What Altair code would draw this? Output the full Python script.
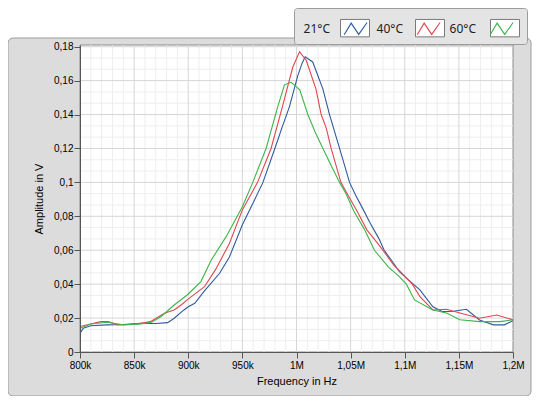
import altair as alt
import pandas as pd
import numpy as np

# ---- data (frequency in kHz, amplitude in V) ----
f21 = [800, 803, 810, 825, 840, 856, 870, 881, 887, 896, 900, 906, 915, 929, 938, 950, 960, 969,
       980, 987, 993.5, 1001, 1005, 1008, 1015, 1024.4, 1030.5, 1039.8, 1049, 1055, 1060, 1068,
       1076, 1081, 1090, 1095, 1106, 1114, 1126, 1135, 1145, 1157, 1169, 1182, 1192, 1200]
a21 = [0.011, 0.014, 0.0155, 0.016, 0.0162, 0.0169, 0.0168, 0.0173, 0.0199, 0.0248, 0.0267, 0.0287,
       0.036, 0.0464, 0.056, 0.075, 0.088, 0.100, 0.120, 0.133, 0.1447, 0.1625, 0.170, 0.174, 0.171,
       0.155, 0.140, 0.120, 0.100, 0.092, 0.086, 0.076, 0.067, 0.060, 0.052, 0.0474, 0.041, 0.0366,
       0.0267, 0.0238, 0.024, 0.0252, 0.0189, 0.016, 0.016, 0.0185]

f40 = [800, 810, 819, 826, 834.6, 845, 856, 865, 878, 887, 894, 899, 915, 925.6, 938, 950, 964,
       976.5, 987, 996.6, 1002.8, 1009, 1018, 1022.8, 1027.5, 1032, 1041, 1048, 1056, 1065, 1075,
       1081, 1090, 1095, 1107, 1114, 1126, 1138.6, 1151, 1169, 1185, 1200]
a40 = [0.015, 0.0165, 0.0179, 0.018, 0.016, 0.0162, 0.0169, 0.0179, 0.0228, 0.0248, 0.028, 0.0307,
       0.0385, 0.049, 0.064, 0.0838, 0.100, 0.120, 0.1447, 0.168, 0.177, 0.172, 0.155, 0.140, 0.132,
       0.120, 0.100, 0.092, 0.083, 0.072, 0.064, 0.059, 0.051, 0.048, 0.040, 0.0327, 0.0248, 0.0252,
       0.023, 0.0199, 0.0218, 0.0189]

f60 = [800, 810, 825, 840, 856, 866, 874.7, 887, 899, 911.7, 921, 935, 950, 959.6, 971.9, 982.7,
       988.9, 995, 999.7, 1003, 1010.5, 1017, 1024.4, 1032, 1039.8, 1046, 1053, 1063, 1072, 1085,
       1095, 1101.5, 1109, 1126, 1138.6, 1151, 1169, 1188, 1200]
a60 = [0.014, 0.0165, 0.0175, 0.016, 0.0165, 0.0175, 0.0208, 0.0277, 0.0336, 0.0415, 0.054, 0.068,
       0.0857, 0.100, 0.120, 0.1447, 0.1575, 0.159, 0.1565, 0.1546, 0.140, 0.130, 0.120, 0.110, 0.100,
       0.093, 0.083, 0.072, 0.060, 0.050, 0.0444, 0.040, 0.0307, 0.0248, 0.023, 0.019, 0.0179,
       0.0179, 0.019]

series_names = ["21°C", "40°C", "60°C"]
series_colors = ["#2f5b9c", "#e0474f", "#3cb54a"]

x_ticks = [800, 850, 900, 950, 1000, 1050, 1100, 1150, 1200]
x_tick_labels = ["800k", "850k", "900k", "950k", "1M", "1,05M", "1,1M", "1,15M", "1,2M"]
y_ticks = [0, 0.02, 0.04, 0.06, 0.08, 0.1, 0.12, 0.14, 0.16, 0.18]
y_tick_labels = ["0", "0,02", "0,04", "0,06", "0,08", "0,1", "0,12", "0,14", "0,16", "0,18"]

x_minor = [v for v in range(810, 1200, 10) if v % 50 != 0]
y_minor = [round(m * 0.02 + k * 0.02 / 3, 5) for m in range(9) for k in (1, 2)]

rows = []
for name, fs, As in zip(series_names, [f21, f40, f60], [a21, a40, a60]):
    for f, a in zip(fs, As):
        rows.append({"series": name, "freq": f, "amp": a})
df = pd.DataFrame(rows)

W, H = 433, 307
FONT = "Noto Sans"
xs = alt.Scale(domain=[800, 1200], nice=False)
ys = alt.Scale(domain=[0, 0.181], nice=False)

def lookup_expr(vals, labels, mult):
    v = ",".join(str(int(round(x * mult))) for x in vals)
    l = ",".join("'" + s + "'" for s in labels)
    return f"[{l}][indexof([{v}], round(datum.value*{mult}))]"

AX = alt.Axis(values=x_ticks, labelExpr=lookup_expr(x_ticks, x_tick_labels, 1),
              grid=False, domain=True, domainColor="#555", tickColor="#555",
              tickSize=6, labelPadding=2, titlePadding=5, zindex=1,
              labelFlush=False, labelOverlap=False, titleFontWeight="normal")
AY = alt.Axis(values=y_ticks, labelExpr=lookup_expr(y_ticks, y_tick_labels, 1000),
              grid=False, domain=True, domainColor="#555", tickColor="#555",
              tickSize=6, labelPadding=1, titlePadding=9, zindex=1,
              labelFlush=False, labelOverlap=False, titleFontWeight="normal")
XT, YT = "Frequency in Hz", "Amplitude in V"

one = pd.DataFrame({"k": [0]})

frame = alt.Chart(one).mark_rect(
    fill="#dcdcdc", stroke="#9c9c9c", strokeWidth=1, cornerRadius=5
).encode(x=alt.value(-72), x2=alt.value(451), y=alt.value(-7), y2=alt.value(351))

plotbg = alt.Chart(one).mark_rect(fill="white", stroke="#8a8a8a", strokeWidth=1).encode(
    x=alt.value(0), x2=alt.value(W), y=alt.value(0), y2=alt.value(H)
)

minor_x = alt.Chart(pd.DataFrame({"v": x_minor})).mark_rule(color="#eeeeee", strokeWidth=1).encode(
    x=alt.X("v:Q", scale=xs, axis=AX, title=XT)
)
minor_y = alt.Chart(pd.DataFrame({"v": y_minor})).mark_rule(color="#eeeeee", strokeWidth=1).encode(
    y=alt.Y("v:Q", scale=ys, axis=AY, title=YT)
)
major_x = alt.Chart(pd.DataFrame({"v": x_ticks[1:-1]})).mark_rule(color="#d6d6d6", strokeWidth=1).encode(
    x=alt.X("v:Q", scale=xs, axis=AX, title=XT)
)
major_y = alt.Chart(pd.DataFrame({"v": y_ticks[1:]})).mark_rule(color="#d6d6d6", strokeWidth=1).encode(
    y=alt.Y("v:Q", scale=ys, axis=AY, title=YT)
)

# shared legend layout
LEG = dict(title=None, orient="none", direction="horizontal", legendX=214, legendY=-37,
           padding=5, symbolSize=841, symbolOffset=41, labelAlign="right",
           labelFont=FONT, labelFontSize=12, columnPadding=2)

# white swatch boxes behind the legend lines (empty data, legend only)
swatch_keys = ["box1", "box2", "box3"]
swatch = alt.Chart(pd.DataFrame({"swatch": pd.Series([], dtype=str)})).mark_square(filled=True).encode(
    color=alt.Color("swatch:N", scale=alt.Scale(domain=swatch_keys, range=["white"] * 3),
                    legend=alt.Legend(fillColor="#e4e4e4", strokeColor="#9c9c9c", cornerRadius=3,
                                      symbolType="M-1,-0.6H1V0.6H-1Z", symbolStrokeColor="#7a7a7a",
                                      symbolStrokeWidth=1, symbolOpacity=1,
                                      labelExpr="''", labelOffset=0, **LEG))
)

lines = alt.Chart(df).mark_line(strokeWidth=1.1, clip=True).encode(
    x=alt.X("freq:Q", scale=xs, axis=AX, title=XT),
    y=alt.Y("amp:Q", scale=ys, axis=AY, title=YT),
    stroke=alt.Stroke("series:N", scale=alt.Scale(domain=series_names, range=series_colors),
                      legend=alt.Legend(
                          symbolType="M-0.78,0.42L-0.3,-0.38L0.22,0.4L0.8,-0.42",
                          symbolStrokeWidth=1.1, symbolFillColor="transparent",
                          labelOffset={"expr": "-41"},
                          labelColor="#222", **LEG)),
    detail="series:N",
)

chart = alt.layer(frame, plotbg, minor_x, minor_y, major_x, major_y, swatch, lines).properties(
    width=W, height=H,
    padding={"left": 72, "top": 37, "right": 19, "bottom": 44},
    autosize=alt.AutoSizeParams(type="none"),
).configure_view(stroke=None).configure_axis(
    labelFont=FONT, titleFont=FONT, labelFontSize=11.5, titleFontSize=13,
    labelColor="#333", titleColor="#222", labelOverlap=False
).configure(background="white")

chart.save("out.html", embed_options={"renderer": "svg", "actions": False})
